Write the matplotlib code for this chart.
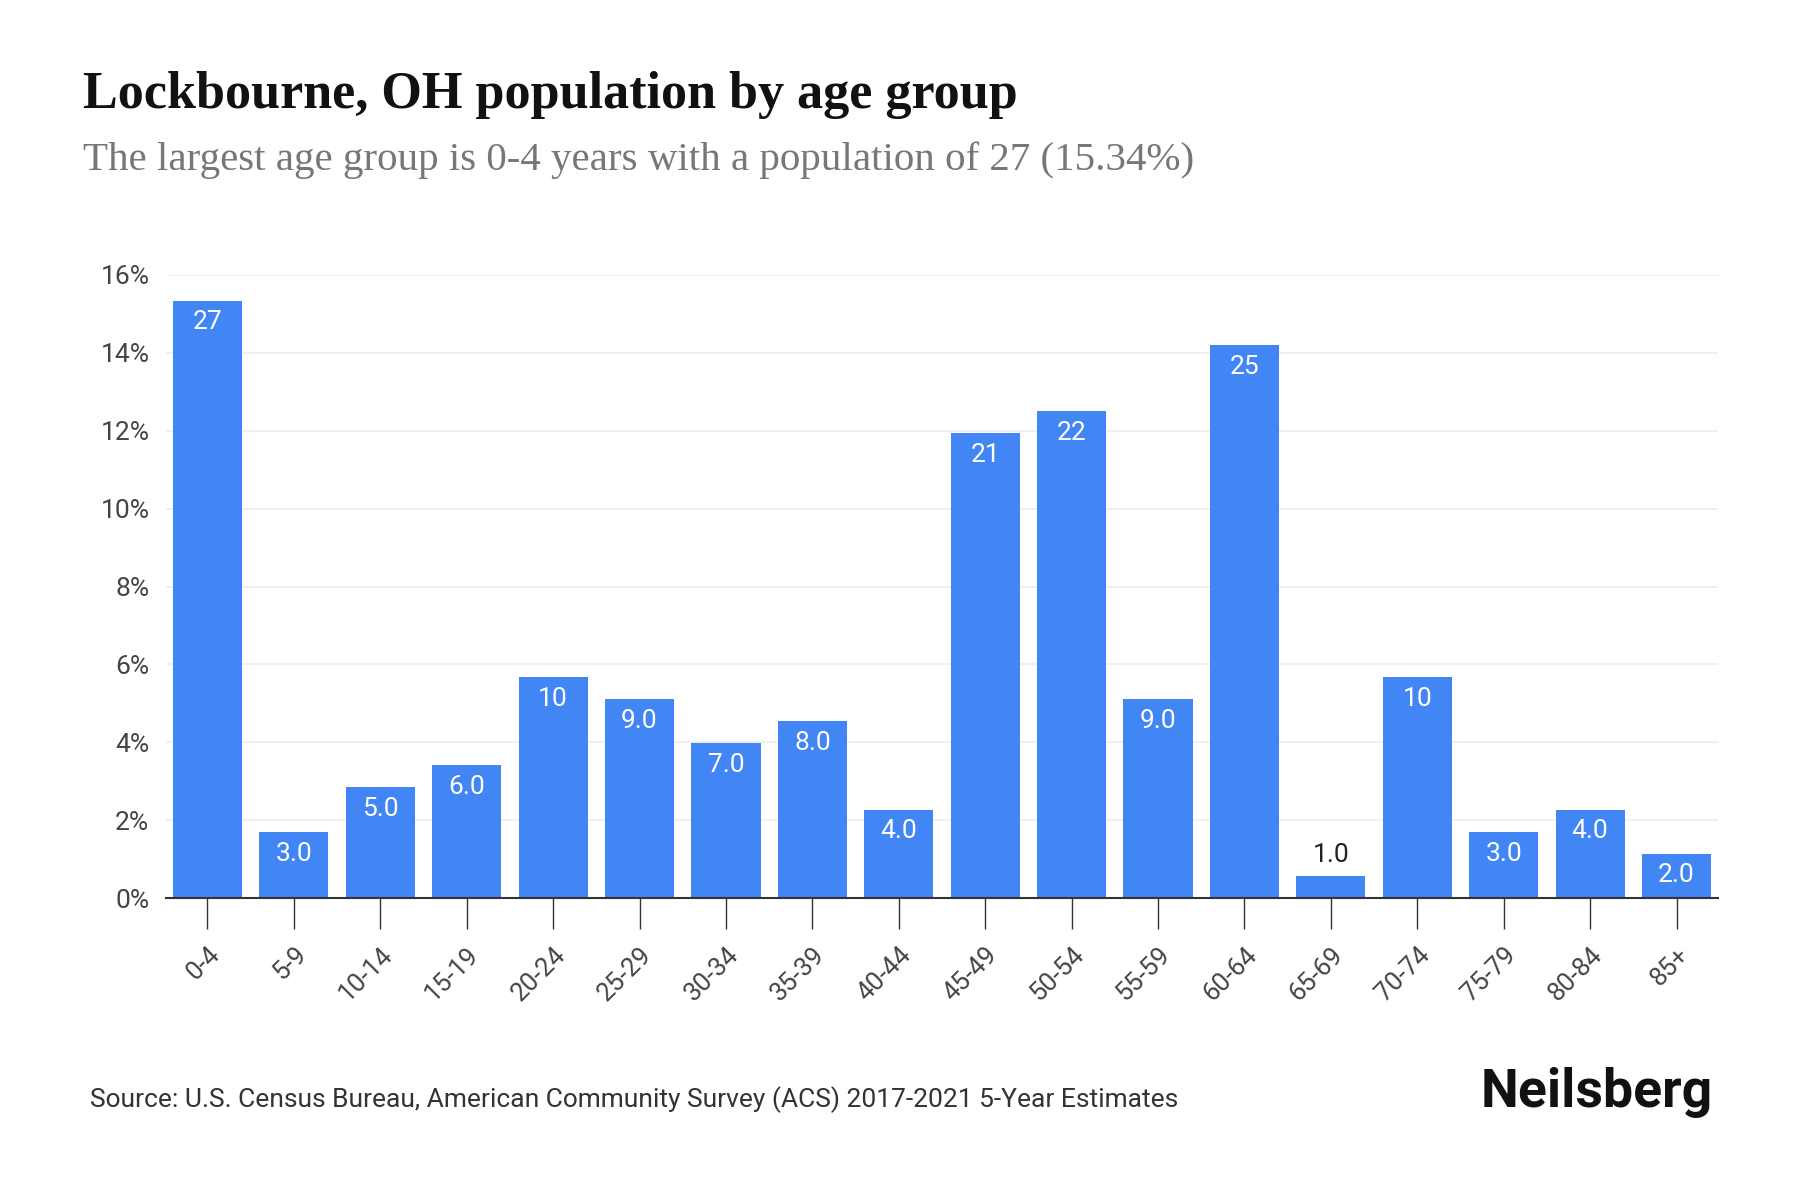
import matplotlib
matplotlib.use("Agg")
import matplotlib.pyplot as plt
from matplotlib.ticker import FuncFormatter, MultipleLocator

age_groups = ["0-4", "5-9", "10-14", "15-19", "20-24", "25-29", "30-34", "35-39",
              "40-44", "45-49", "50-54", "55-59", "60-64", "65-69", "70-74",
              "75-79", "80-84", "85+"]
population = [27, 3, 5, 6, 10, 9, 7, 8, 4, 21, 22, 9, 25, 1, 10, 3, 4, 2]
percent = [15.34, 1.70, 2.84, 3.41, 5.68, 5.11, 3.98, 4.55, 2.27, 11.93, 12.50,
           5.11, 14.20, 0.57, 5.68, 1.70, 2.27, 1.14]
bar_labels = ["27", "3.0", "5.0", "6.0", "10", "9.0", "7.0", "8.0", "4.0", "21",
              "22", "9.0", "25", "1.0", "10", "3.0", "4.0", "2.0"]

title = "Lockbourne, OH population by age group"
subtitle = "The largest age group is 0-4 years with a population of 27 (15.34%)"
source = "Source: U.S. Census Bureau, American Community Survey (ACS) 2017-2021 5-Year Estimates"

BLUE = "#4285F4"
W, H = 1800, 1200
fig = plt.figure(figsize=(18, 12), dpi=100)
ax = fig.add_axes([166/W, 1 - 898/H, (1718-166)/W, (898-275)/H])

x = list(range(len(age_groups)))
ax.bar(x, percent, width=0.8, color=BLUE, zorder=3)
ax.set_xlim(-0.48, len(age_groups) - 0.52)
ax.set_ylim(0, 16)
ax.yaxis.set_major_locator(MultipleLocator(2))
ax.yaxis.set_major_formatter(FuncFormatter(lambda v, p: f"{v:.0f}%"))
ax.grid(axis="y", color="#eeeeee", linewidth=1.2, zorder=0)
ax.set_axisbelow(True)
for s in ["top", "right", "left"]:
    ax.spines[s].set_visible(False)
ax.spines["bottom"].set_color("#333333")
ax.spines["bottom"].set_linewidth(1.5)
ax.spines["bottom"].set_zorder(4)

ax.set_xticks(x)
ax.set_xticklabels(age_groups, rotation=45, ha="right", va="top",
                   rotation_mode="anchor", fontsize=18.5, color="#444444",
                   family="Roboto")
ax.tick_params(axis="x", length=22, width=1, color="#333333", pad=10)
ax.tick_params(axis="y", length=0, pad=12, labelsize=19, labelcolor="#444444")
for lbl in ax.get_yticklabels():
    lbl.set_family("Roboto")

for xi, p, lab in zip(x, percent, bar_labels):
    if p < 1.0:
        ax.annotate(lab, (xi, p), xytext=(0, 6), textcoords="offset points",
                    ha="center", va="bottom", fontsize=19, color="#222222",
                    family="Roboto", zorder=5)
    else:
        ax.annotate(lab, (xi, p), xytext=(0, -7), textcoords="offset points",
                    ha="center", va="top", fontsize=19, color="white",
                    family="Roboto", zorder=5)

fig.text(83/W, 1 - 95/H, title, fontsize=37.5, fontweight="bold",
         family="Liberation Serif", color="#111111", va="center", ha="left")
fig.text(83/W, 1 - 160/H, subtitle, fontsize=29.5,
         family="Liberation Serif", color="#777777", va="center", ha="left")
fig.text(90/W, 1 - 1100/H, source, fontsize=19, family="Roboto",
         color="#333333", va="center", ha="left")
fig.text(1713/W, 1 - 1092/H, "Neilsberg", fontsize=38.5, family="Roboto",
         fontweight="bold", color="#111111", va="center", ha="right")

fig.savefig("out.png", dpi=100, facecolor="white")
